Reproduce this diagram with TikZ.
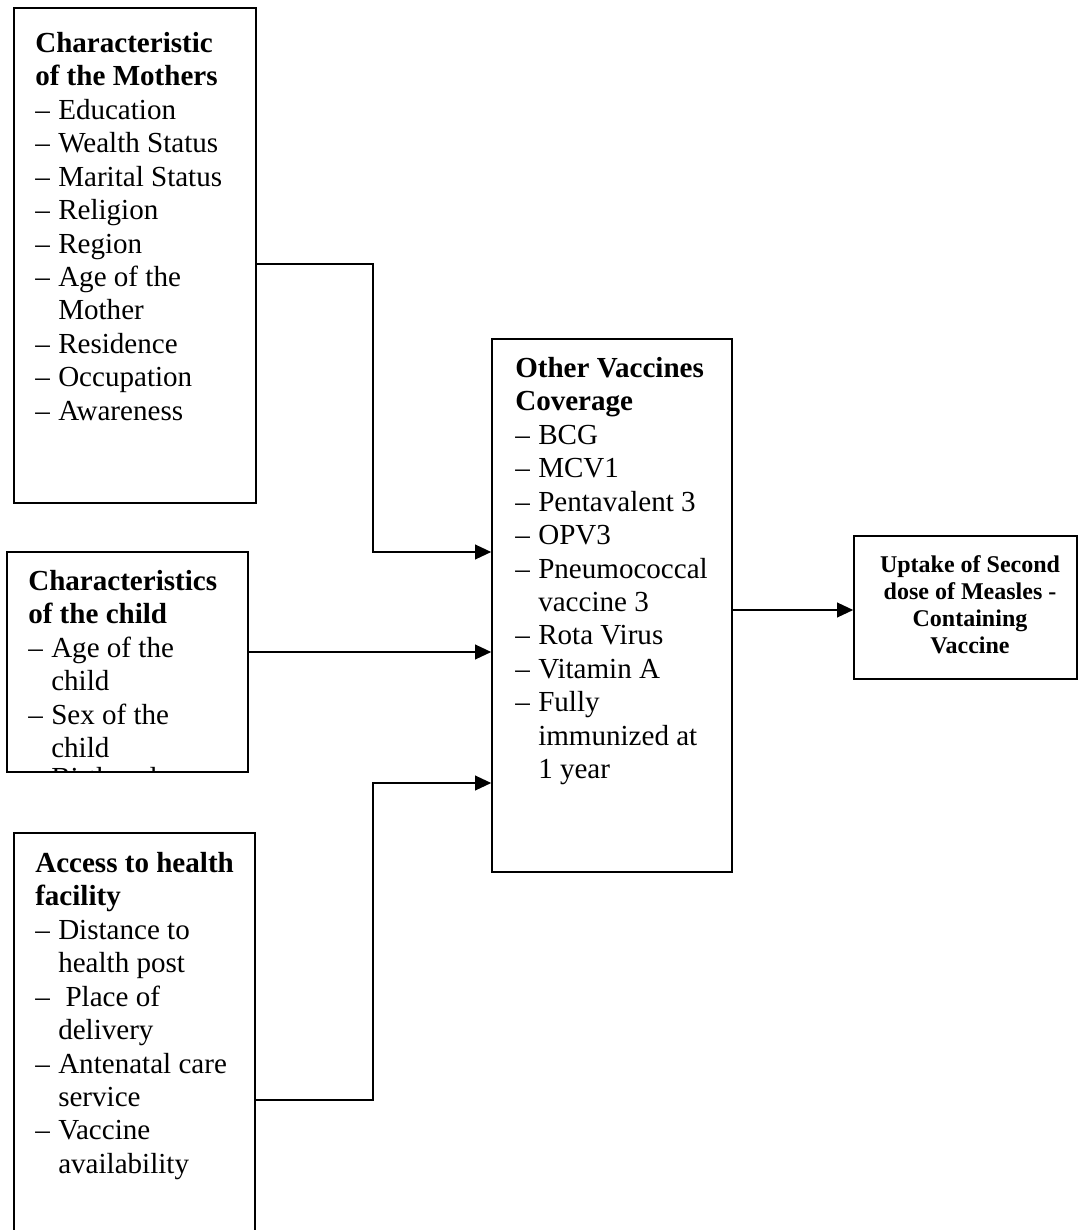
\documentclass[tikz,border=0pt]{standalone}
\usepackage{fontspec}
\setmainfont{Liberation Serif}
\usetikzlibrary{arrows.meta,fit}
\tikzset{
  boxst/.style={draw, line width=1.2pt, inner sep=0pt},
  arr/.style={line width=1.2pt, -{Triangle[length=12pt,width=11pt]}},
  txt/.style={anchor=north west, inner sep=0pt, align=left,
    font=\fontsize{21.8}{25.1}\selectfont},
  restxt/.style={anchor=north, inner sep=0pt, align=center,
    font=\fontsize{18}{20.25}\selectfont\bfseries},
}
\newcommand{\itm}[1]{\makebox[17.25pt][l]{–}#1}
\newcommand{\cnt}[1]{\hspace*{17.25pt}#1}
\newcommand{\fst}{\rule{0pt}{20pt}}
\begin{document}
\begin{tikzpicture}[x=0.75pt,y=-0.75pt]
\useasboundingbox (0,0) rectangle (1078,1230);
\clip (0,0) rectangle (1078,1230);
% boxes
\node[boxst, fit={(14,8) (256,503)}] (mothers) {};
\node[boxst, fit={(7,552) (248,772)}] (child) {};
\node[boxst, fit={(14,833) (255,1260)}] (access) {};
\node[boxst, fit={(492,339) (732,872)}] (other) {};
\node[boxst, fit={(854,536) (1077,679)}] (result) {};
% texts
\node[txt] (tmothers) at (35,25.3) {\fst\textbf{Characteristic}\\
\textbf{of the Mothers}\\
\itm{Education}\\
\itm{Wealth Status}\\
\itm{Marital Status}\\
\itm{Religion}\\
\itm{Region}\\
\itm{Age of the}\\
\cnt{Mother}\\
\itm{Residence}\\
\itm{Occupation}\\
\itm{Awareness}};
\begin{scope}
\clip (7,552) rectangle (248,772);
\node[txt] (tchild) at (28,563.3) {\fst\textbf{Characteristics}\\
\textbf{of the child}\\
\itm{Age of the}\\
\cnt{child}\\
\itm{Sex of the}\\
\cnt{child}\\[-3pt]
\itm{Birth order}};
\end{scope}
\node[txt] (taccess) at (35,845.3) {\fst\textbf{Access to health}\\
\textbf{facility}\\
\itm{Distance to}\\
\cnt{health post}\\
\itm{ Place of}\\
\cnt{delivery}\\
\itm{Antenatal care}\\
\cnt{service}\\
\itm{Vaccine}\\
\cnt{availability}};
\node[txt] (tother) at (515,350.3) {\fst\textbf{Other Vaccines}\\
\textbf{Coverage}\\
\itm{BCG}\\
\itm{MCV1}\\
\itm{Pentavalent 3}\\
\itm{OPV3}\\
\itm{Pneumococcal}\\
\cnt{vaccine 3}\\
\itm{Rota Virus}\\
\itm{Vitamin A}\\
\itm{Fully}\\
\cnt{immunized at}\\
\cnt{1 year}};
\node[restxt] (tresult) at (970,550.7) {\rule{0pt}{16pt}Uptake of Second\\
dose of Measles -\\
Containing\\
Vaccine};
% connectors
\coordinate (jm) at (373,264);
\coordinate (jm2) at (373,552);
\coordinate (jc) at (300,652);
\coordinate (ja) at (373,1100);
\coordinate (ja2) at (373,783);
\coordinate (jo) at (800,610);
\draw[arr] (mothers.east |- jm) -- (jm) -- (jm2) -- (other.west |- jm2);
\draw[arr] (child.east |- jc) -- (other.west |- jc);
\draw[arr] (access.east |- ja) -- (ja) -- (ja2) -- (other.west |- ja2);
\draw[arr] (other.east |- jo) -- (result.west |- jo);
\end{tikzpicture}
\end{document}
